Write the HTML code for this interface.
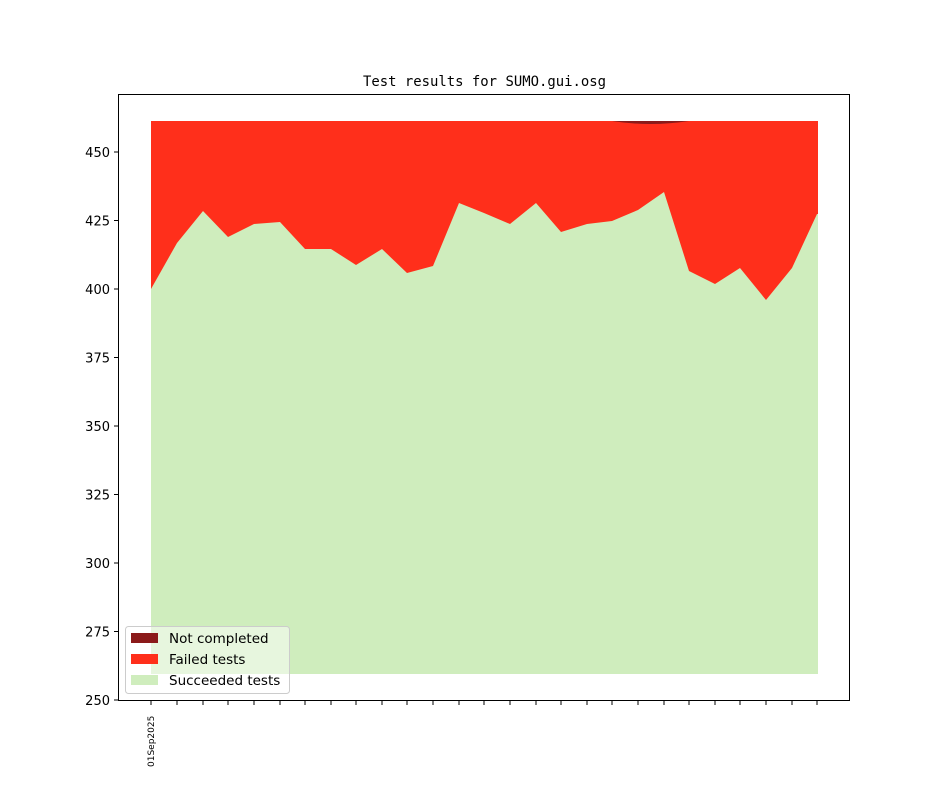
<!DOCTYPE html>
<html><head><meta charset="utf-8"><style>body{margin:0;background:#fff}svg{display:block}</style></head>
<body>
<svg width="944" height="787" xmlns="http://www.w3.org/2000/svg" font-family="DejaVu Sans, Liberation Sans, sans-serif">
<rect width="944" height="787" fill="#fff"/>
<text x="484.5" y="86" text-anchor="middle" font-family="DejaVu Sans Mono, Liberation Mono, monospace" font-size="14" textLength="243" lengthAdjust="spacingAndGlyphs">Test results for SUMO.gui.osg</text>
<rect x="151" y="121" width="667" height="553" fill="#ff2f1b"/>
<polygon fill="#cfedbd" points="151,289 177,243 203,211 228,237 254,224 280,222 305,249 331,249 356,265 382,249 407,273 433,266 459,203 484,213 510,224 536,203 561,232 587,224 612,221 638,210 664,192 689,271 715,284 740,268 766,300 792,268 817,214 818,214 818,674 151,674"/>
<path d="M612,121 Q650,127 689,121 Z" fill="#8b1a1a"/>
<rect x="118.5" y="94.5" width="731" height="606" fill="none" stroke="#000" stroke-width="1"/>
<g font-size="13" text-anchor="end">
<g stroke="#000"><line x1="114" x2="118" y1="152" y2="152"/><line x1="114" x2="118" y1="220.5" y2="220.5"/><line x1="114" x2="118" y1="289" y2="289"/><line x1="114" x2="118" y1="357.5" y2="357.5"/><line x1="114" x2="118" y1="426" y2="426"/><line x1="114" x2="118" y1="494.5" y2="494.5"/><line x1="114" x2="118" y1="563" y2="563"/><line x1="114" x2="118" y1="631.5" y2="631.5"/><line x1="114" x2="118" y1="700" y2="700"/></g>
<text x="110" y="157">450</text><text x="110" y="225.5">425</text><text x="110" y="294">400</text><text x="110" y="362.5">375</text><text x="110" y="431">350</text><text x="110" y="499.5">325</text><text x="110" y="568">300</text><text x="110" y="636.5">275</text><text x="110" y="705">250</text>
</g>
<g stroke="#000">
<line x1="151" x2="151" y1="701" y2="705"/><line x1="177" x2="177" y1="701" y2="705"/><line x1="203" x2="203" y1="701" y2="705"/><line x1="228" x2="228" y1="701" y2="705"/><line x1="254" x2="254" y1="701" y2="705"/><line x1="280" x2="280" y1="701" y2="705"/><line x1="305" x2="305" y1="701" y2="705"/><line x1="331" x2="331" y1="701" y2="705"/><line x1="356" x2="356" y1="701" y2="705"/><line x1="382" x2="382" y1="701" y2="705"/><line x1="407" x2="407" y1="701" y2="705"/><line x1="433" x2="433" y1="701" y2="705"/><line x1="459" x2="459" y1="701" y2="705"/><line x1="484" x2="484" y1="701" y2="705"/><line x1="510" x2="510" y1="701" y2="705"/><line x1="536" x2="536" y1="701" y2="705"/><line x1="561" x2="561" y1="701" y2="705"/><line x1="587" x2="587" y1="701" y2="705"/><line x1="612" x2="612" y1="701" y2="705"/><line x1="638" x2="638" y1="701" y2="705"/><line x1="664" x2="664" y1="701" y2="705"/><line x1="689" x2="689" y1="701" y2="705"/><line x1="715" x2="715" y1="701" y2="705"/><line x1="740" x2="740" y1="701" y2="705"/><line x1="766" x2="766" y1="701" y2="705"/><line x1="792" x2="792" y1="701" y2="705"/><line x1="817" x2="817" y1="701" y2="705"/>
</g>
<text transform="translate(154,767) rotate(-90)" font-size="9">01Sep2025</text>
<rect x="125.5" y="626.5" width="164" height="67" rx="3" fill="#fff" fill-opacity="0.5" stroke="#ccc"/>
<rect x="131" y="633" width="27" height="10" fill="#8b1a1a"/>
<rect x="131" y="654" width="27" height="10" fill="#ff2f1b"/>
<rect x="131" y="675" width="27" height="10" fill="#cfedbd"/>
<g font-size="13.5"><text x="169" y="643">Not completed</text><text x="169" y="664">Failed tests</text><text x="169" y="685">Succeeded tests</text></g>
</svg>
</body></html>
